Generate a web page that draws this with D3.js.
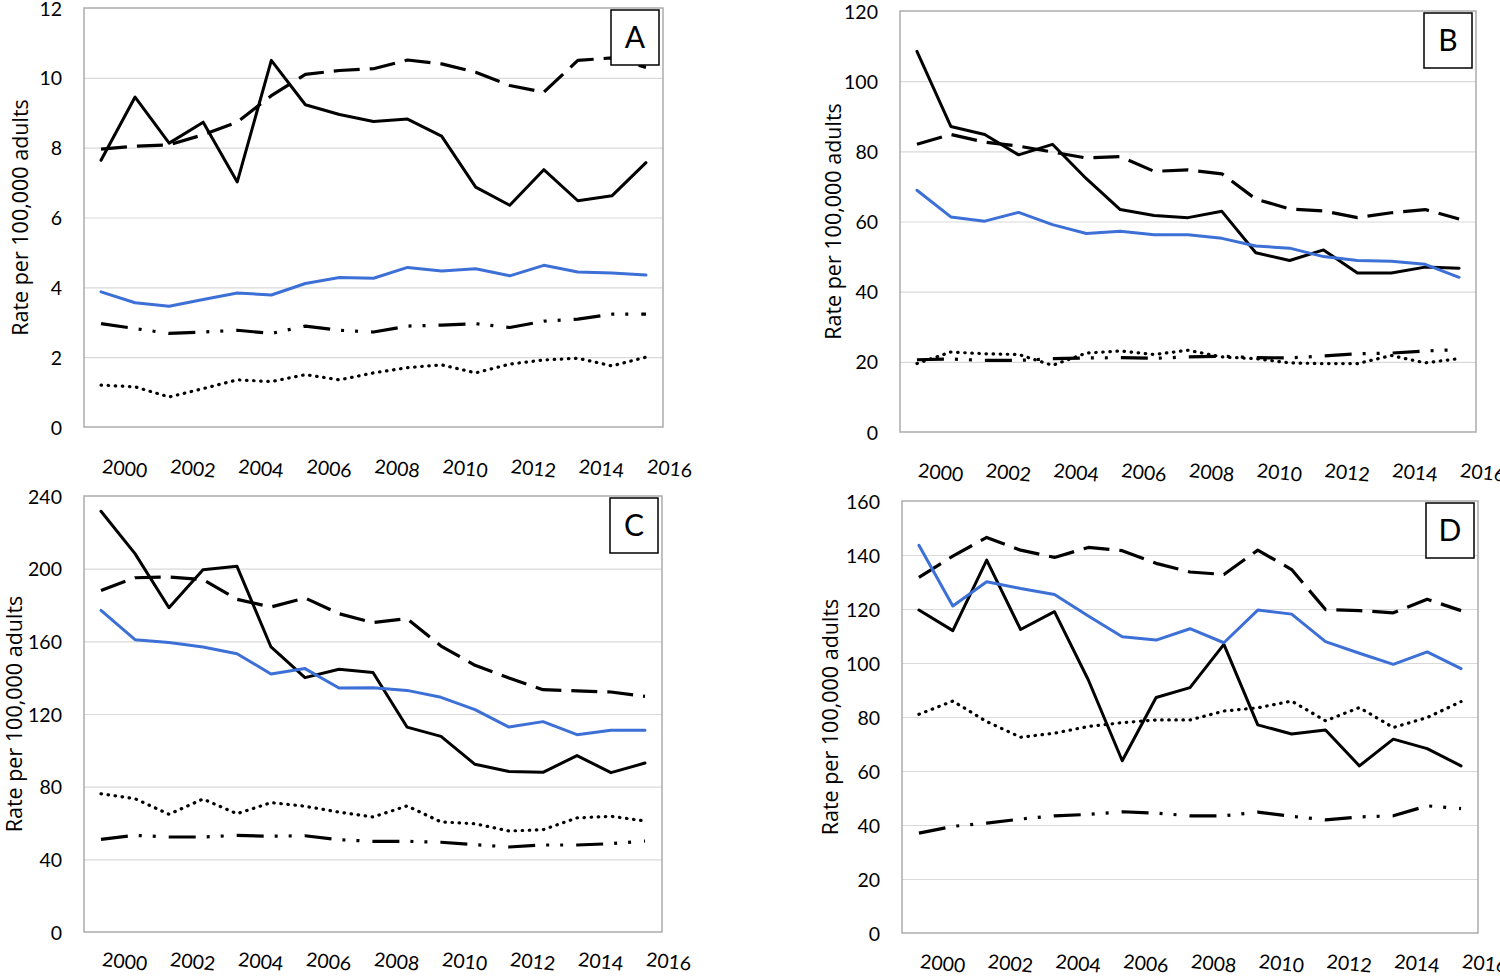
<!DOCTYPE html>
<html><head><meta charset="utf-8">
<script src="https://cdn.jsdelivr.net/npm/d3@7"></script>
<style>body{margin:0;background:#fff} svg{display:block}</style>
</head><body>
<svg id="c" width="1500" height="976"></svg>
<script>
const years = [2000,2001,2002,2003,2004,2005,2006,2007,2008,2009,2010,2011,2012,2013,2014,2015,2016];
const yearLabels = [2000,2002,2004,2006,2008,2010,2012,2014,2016];
const panelLetters = ["A","B","C","D"];
const yTicksA = [0,2,4,6,8,10,12];
const yTicksB = [0,20,40,60,80,100,120];
const yTicksC = [0,40,80,120,160,200,240];
const yTicksD = [0,20,40,60,80,100,120,140,160];
const yTitle = "Rate per 100,000 adults";

// Panel A
const A_solid   = [7.64,9.45,8.13,8.73,7.02,10.5,9.23,8.95,8.75,8.82,8.33,6.87,6.35,7.37,6.48,6.62,7.57];
const A_dashed  = [7.96,8.04,8.08,8.37,8.73,9.49,10.1,10.21,10.26,10.51,10.4,10.16,9.78,9.59,10.5,10.57,10.3];
const A_blue    = [3.87,3.56,3.46,3.65,3.84,3.78,4.11,4.28,4.26,4.57,4.47,4.53,4.33,4.63,4.44,4.41,4.35];
const A_dashdot = [2.96,2.82,2.68,2.72,2.77,2.68,2.89,2.77,2.72,2.89,2.92,2.96,2.85,3.03,3.09,3.23,3.23];
const A_dotted  = [1.2,1.15,0.86,1.1,1.35,1.3,1.5,1.35,1.55,1.7,1.78,1.55,1.8,1.92,1.97,1.75,2.0];
// Panel B
const B_solid   = [108.5,87.1,84.8,79,82,72.2,63.4,61.7,61.1,62.9,51.1,48.9,51.9,45.3,45.3,47,46.7];
const B_dashed  = [82,84.8,82.6,81.5,79.8,78.1,78.5,74.3,74.7,73.6,66.4,63.6,63,61.1,62.5,63.4,60.7];
const B_blue    = [68.9,61.3,60.1,62.6,59.1,56.6,57.2,56.2,56.2,55.2,53,52.4,50,48.9,48.7,47.8,44.1];
const B_dashdot = [20.6,20.8,20.4,20.4,20.9,21.1,21.2,21,21.4,21.6,21.2,21.1,21.7,22.3,22.5,23.1,23.5];
const B_dotted  = [19.5,22.8,22.3,22.1,19,22.5,23.1,22.1,23.3,21.4,20.9,19.7,19.5,19.5,21.8,19.7,20.9];
// Panel C
const C_solid   = [231.6,208.3,178.5,199.4,201.3,156.9,140,144.6,142.8,112.8,107.7,92.3,88.4,87.9,97.1,87.7,93];
const C_dashed  = [188,195,195.4,194,183.1,178.9,183.9,175.2,170.3,172.5,157.4,146.8,139.8,133.4,132.7,132.1,129.7];
const C_blue    = [177,160.9,159.4,156.9,153.2,142,145,134.3,134.5,133,129.2,122.4,112.8,115.8,108.6,111,111];
const C_dashdot = [51,53.2,52.3,52.3,53.2,52.7,53,50.8,49.9,49.9,49.4,48.1,46.8,47.9,47.9,48.6,50.1];
const C_dotted  = [76.1,73.4,64.8,73.2,65.1,71.2,69.2,66,63.3,69.4,60.6,59.6,55.6,56.3,62.8,63.7,61.1];
// Panel D
const D_solid   = [119.6,112,138.1,112.4,119,93.7,63.8,87.2,90.9,106.9,77.1,73.7,75.2,61.9,71.8,68.3,61.9];
const D_dashed  = [131.7,139.6,146.5,141.8,139.1,142.8,141.6,136.9,133.7,132.8,141.8,134.6,119.8,119.4,118.6,123.6,119.4];
const D_blue    = [143.6,121.1,130.1,127.6,125.4,117.4,109.7,108.5,112.7,107.5,119.6,118.1,107.9,103.6,99.5,104.1,97.9];
const D_dashdot = [37,39.5,40.7,42.2,43.4,43.9,44.9,44.4,43.4,43.4,44.8,43.2,41.9,43,43.4,47.1,46.1];
const D_dotted  = [81,85.9,78.3,72.5,74,76.5,77.9,78.9,78.9,82.2,83.4,85.9,78.6,83.5,76.1,79.8,85.7];

// layout (positions / styles)
const layout = [
  {x0:84,  x1:663,  y0:8,   y1:427, lab:46, tx:20},
  {x0:900, x1:1476, y0:11,  y1:432, lab:45, tx:833},
  {x0:84,  x1:662,  y0:496, y1:932, lab:34, tx:14},
  {x0:902, x1:1478, y0:501, y1:933, lab:35, tx:830}
];
const seriesData = [
  {solid:A_solid, dashed:A_dashed, blue:A_blue, dashdot:A_dashdot, dotted:A_dotted, ticks:yTicksA},
  {solid:B_solid, dashed:B_dashed, blue:B_blue, dashdot:B_dashdot, dotted:B_dotted, ticks:yTicksB},
  {solid:C_solid, dashed:C_dashed, blue:C_blue, dashdot:C_dashdot, dotted:C_dotted, ticks:yTicksC},
  {solid:D_solid, dashed:D_dashed, blue:D_blue, dashdot:D_dashdot, dotted:D_dotted, ticks:yTicksD}
];
const styles = {
  dotted:  {color:"#000", width:3.2, dash:"0.5,6.6", cap:"round"},
  dashdot: {color:"#000", width:3.2, dash:"27,11,3,11,3,13", cap:"butt"},
  dashed:  {color:"#000", width:3.2, dash:"26,10", cap:"butt"},
  solid:   {color:"#000", width:3, dash:null, cap:"round"},
  blue:    {color:"#3d70d6", width:3, dash:null, cap:"round"}
};
const order = ["dotted","dashdot","dashed","solid","blue"];

const svg = d3.select("#c");
const tickFont = "Lato, 'Open Sans', sans-serif";

layout.forEach((L, i) => {
  const S = seriesData[i];
  const g = svg.append("g");
  const x = d3.scalePoint().domain(years).range([L.x0, L.x1]).padding(0.5);
  const yMax = d3.max(S.ticks);
  const y = d3.scaleLinear().domain([0, yMax]).range([L.y1, L.y0]);

  // gridlines
  g.append("g").attr("transform", `translate(${L.x0},0)`)
    .call(d3.axisLeft(y).tickValues(S.ticks.filter(t => t > 0 && t < yMax)).tickSize(-(L.x1 - L.x0)).tickFormat(""))
    .call(s => s.select(".domain").remove())
    .call(s => s.selectAll("line").attr("stroke", "#d9d9d9").attr("stroke-width", 1.2));

  // plot border
  g.append("rect").attr("x", L.x0).attr("y", L.y0).attr("width", L.x1 - L.x0).attr("height", L.y1 - L.y0)
    .attr("fill", "none").attr("stroke", "#a6a6a6").attr("stroke-width", 1.4);

  // y tick labels
  g.append("g").attr("transform", `translate(${L.x0 - 22},0)`)
    .call(d3.axisLeft(y).tickValues(S.ticks).tickSize(0).tickPadding(0))
    .call(s => s.select(".domain").remove())
    .call(s => s.selectAll("text").attr("font-family", tickFont).attr("font-size", 19.5).attr("fill", "#000").attr("dy", "0.36em"));

  // x labels (slightly rotated)
  const xa = g.append("g").attr("transform", `translate(0,${L.y1})`)
    .call(d3.axisBottom(x).tickValues(yearLabels).tickSize(0).tickPadding(0));
  xa.select(".domain").remove();
  xa.selectAll("text")
    .attr("font-family", tickFont).attr("font-size", 19.5).attr("fill", "#000")
    .attr("text-anchor", "start").attr("x", 0).attr("y", 0).attr("dy", 0)
    .attr("transform", `translate(0,${L.lab}) rotate(6)`);

  // y title
  g.append("text").attr("transform", `translate(${L.tx + 8},${(L.y0 + L.y1) / 2}) rotate(-90)`)
    .attr("text-anchor", "middle").attr("font-family", "'Open Sans', sans-serif").attr("font-size", 21.5)
    .attr("fill", "#000").text(yTitle);

  // lines
  const line = d3.line().x((d, j) => x(years[j])).y(d => y(d));
  order.forEach(k => {
    const st = styles[k];
    g.append("path").datum(S[k]).attr("d", line).attr("fill", "none")
      .attr("stroke", st.color).attr("stroke-width", st.width)
      .attr("stroke-linejoin", "round").attr("stroke-linecap", st.cap)
      .attr("stroke-dasharray", st.dash);
  });

  // panel letter box
  const bw = 48, bh = 55;
  const bx = L.x1 - 4 - bw, by = L.y0 + 2;
  g.append("rect").attr("x", bx).attr("y", by).attr("width", bw).attr("height", bh)
    .attr("fill", "#fff").attr("stroke", "#000").attr("stroke-width", 1.5);
  g.append("text").attr("x", bx + bw / 2).attr("y", by + bh / 2).attr("dy", "0.36em")
    .attr("text-anchor", "middle").attr("font-family", tickFont).attr("font-size", 30)
    .attr("fill", "#000").text(panelLetters[i]);
});
</script>
</body></html>
